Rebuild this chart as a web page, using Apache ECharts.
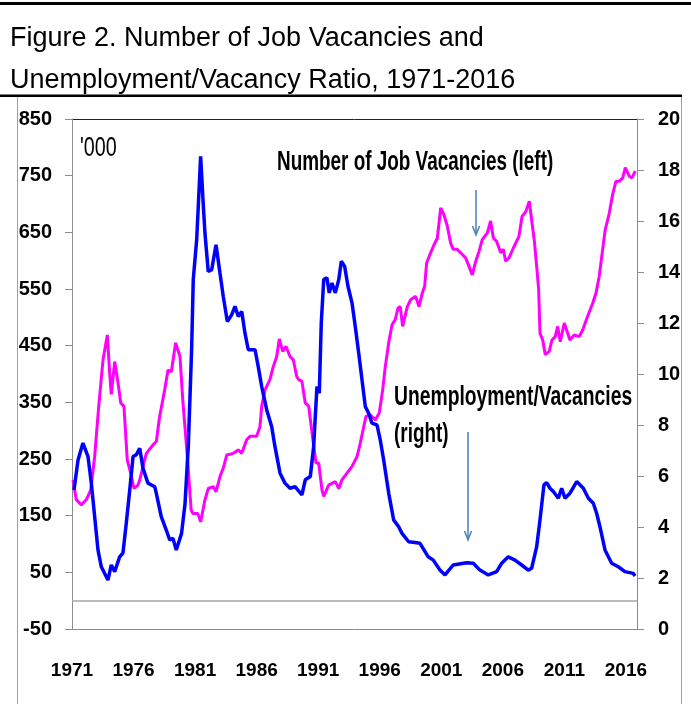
<!DOCTYPE html>
<html>
<head>
<meta charset="utf-8">
<script src="https://cdn.jsdelivr.net/npm/echarts@6/dist/echarts.min.js"></script>
<style>
  html, body { margin: 0; padding: 0; background: #fff; }
  #chart { width: 691px; height: 704px; }
</style>
</head>
<body>
<div id="chart"></div>
<script>
// job vacancies, '000 (left axis)
var vacYears = [1971.08,1971.35,1971.76,1972.16,1972.52,1972.84,1973.17,1973.52,1973.87,1974.06,1974.19,1974.47,1974.74,1974.96,
  1975.22,1975.49,1975.77,1976.04,1976.36,1976.5,1977.04,1977.58,1977.85,1978.12,1978.53,1978.8,1979.07,1979.42,1979.77,1980.0,
  1980.41,1980.68,1980.81,1981.22,1981.45,1981.8,1982.07,1982.48,1982.7,1983.02,1983.29,1983.57,1984.1,1984.51,1984.79,1985.19,
  1985.46,1986.0,1986.27,1986.41,1986.68,1987.08,1987.35,1987.63,1987.84,1988.12,1988.38,1988.71,1988.98,1989.25,1989.42,1989.68,
  1989.95,1990.23,1990.5,1990.82,1991.04,1991.31,1991.45,1991.85,1992.39,1992.67,1992.93,1993.34,1993.75,1994.15,1994.42,1994.7,
  1994.88,1995.23,1995.64,1995.96,1996.24,1996.45,1996.73,1997.0,1997.26,1997.48,1997.67,1997.86,1998.24,1998.51,1998.92,1999.19,
  1999.46,1999.65,1999.81,2000.08,2000.35,2000.68,2000.95,2001.22,2001.49,2001.76,2001.97,2002.3,2002.71,2002.98,2003.25,2003.52,
  2003.8,2004.06,2004.33,2004.74,2005.01,2005.23,2005.5,2005.83,2006.04,2006.23,2006.5,2006.91,2007.31,2007.56,2007.88,2008.15,
  2008.37,2008.55,2008.75,2008.91,2009.02,2009.24,2009.45,2009.77,2009.99,2010.26,2010.45,2010.67,2010.99,2011.27,2011.45,2011.8,
  2012.21,2012.49,2012.89,2013.3,2013.57,2013.83,2014.11,2014.32,2014.65,2014.92,2015.19,2015.46,2015.74,2015.95,2016.27,2016.49,2016.76];
var vacValues = [213,178,169,178,195,254,343,425,469,402,364,422,384,349,
  343,248,225,198,204,213,260,275,281,325,372,407,404,455,431,354,
  243,160,154,154,139,178,198,201,192,219,234,257,260,266,260,284,
  290,290,307,343,372,390,413,431,462,440,449,431,425,396,390,387,
  349,343,296,243,243,195,184,204,210,198,213,225,237,254,278,307,
  325,328,319,331,372,413,455,487,496,516,519,484,519,531,537,519,
  543,555,596,611,625,640,693,681,661,631,620,620,611,605,590,575,
  599,616,637,649,670,640,634,614,620,599,605,625,643,678,687,705,
  667,637,590,549,472,460,434,440,460,466,484,457,490,472,460,469,
  466,478,502,525,543,572,620,655,684,717,740,740,746,764,749,746,758];

// unemployment / vacancies ratio (right axis)
var uvYears = [1971.16,1971.49,1971.89,1972.3,1972.57,1972.84,1973.11,1973.38,1973.92,1974.19,1974.47,1974.87,1975.14,1975.41,
  1975.69,1975.96,1976.22,1976.5,1976.77,1977.17,1977.72,1977.85,1978.25,1978.66,1978.94,1979.2,1979.47,1979.9,1980.18,1980.45,
  1980.72,1980.85,1981.13,1981.26,1981.45,1981.67,1981.8,1982.07,1982.35,1982.7,1983.02,1983.29,1983.62,1983.97,1984.24,1984.51,
  1984.79,1985.05,1985.32,1985.87,1986.13,1986.41,1986.82,1987.22,1987.49,1987.9,1988.3,1988.71,1989.12,1989.28,1989.68,1989.95,
  1990.36,1990.63,1990.9,1991.09,1991.25,1991.45,1991.71,1991.9,1992.12,1992.39,1992.67,1992.88,1993.15,1993.42,1993.75,1994.01,
  1994.29,1994.56,1994.83,1995.1,1995.37,1995.78,1996.04,1996.32,1996.73,1997.13,1997.54,1997.81,1998.35,1998.86,1999.27,1999.94,
  2000.35,2000.89,2001.3,2001.97,2003.06,2003.6,2004.14,2004.82,2005.5,2005.91,2006.44,2006.99,2007.53,2008.07,2008.34,2008.75,
  2009.02,2009.34,2009.56,2009.83,2010.1,2010.51,2010.78,2011.05,2011.45,2012.0,2012.54,2012.95,2013.35,2013.62,2013.89,2014.3,
  2014.84,2015.38,2015.92,2016.6,2016.74];
var uvValues = [5.45,6.63,7.29,6.76,5.72,4.41,3.1,2.44,1.92,2.51,2.25,2.83,2.98,4.15,
  5.45,6.76,6.83,7.09,6.3,5.72,5.58,5.32,4.41,3.88,3.49,3.56,3.1,3.75,4.9,7.2,
  11.0,13.7,15.27,16.58,18.54,16.58,15.53,14.02,14.09,15.07,13.96,13.04,12.06,12.32,12.65,12.26,
  12.45,11.61,10.95,10.95,10.29,9.51,8.59,7.94,7.15,6.11,5.72,5.52,5.58,5.52,5.26,5.85,
  5.98,7.15,9.51,9.25,12.0,13.7,13.77,13.18,13.57,13.18,13.7,14.42,14.22,13.44,12.78,11.87,
  10.82,9.77,8.72,8.46,8.07,8.0,7.42,6.63,5.32,4.28,4.01,3.75,3.42,3.39,3.36,2.83,
  2.7,2.31,2.12,2.51,2.6,2.58,2.31,2.12,2.25,2.58,2.83,2.7,2.51,2.31,2.38,3.23,
  4.28,5.65,5.74,5.52,5.39,5.13,5.52,5.13,5.32,5.78,5.52,5.13,4.93,4.54,4.01,3.1,
  2.58,2.44,2.25,2.18,2.08];

var startYear = 1971;   // x axis counted from here, ticks every 5 years
var leftMin = -50;      // left axis runs -50..850, shifted so ticks start at 0

var sans = "'Liberation Sans', Arial, sans-serif";
var gray = '#8c8c8c';
var squeeze = 0.70;     // narrow, tall look of the original notes

function pairs(xs, ys, shift) {
    var out = [];
    for (var i = 0; i < xs.length; i++) {
        out.push([xs[i] - startYear, ys[i] + shift]);
    }
    return out;
}

function note(x, y, text, bold, sx) {
    return {
        type: 'text', x: x, y: y, scaleX: sx || squeeze,
        style: {text: text, fontFamily: sans, fontWeight: bold ? 'bold' : 'normal', fontSize: 27,
                fill: '#000', verticalAlign: 'middle'}
    };
}

var chart = echarts.init(document.getElementById('chart'), null, {renderer: 'canvas'});

chart.setOption({
    animation: false,
    backgroundColor: '#fff',
    grid: {left: 72, right: 54, top: 119, bottom: 75},
    xAxis: {
        type: 'value',
        min: 0,
        max: 45.9,
        interval: 5,
        axisLine: {lineStyle: {color: gray, width: 1}},
        axisTick: {show: false},
        splitLine: {show: false},
        axisLabel: {
            showMaxLabel: false,
            margin: 32,
            color: '#000',
            fontFamily: sans,
            fontWeight: 'bold',
            fontSize: 19,
            formatter: function (v) { return v % 5 === 0 ? String(startYear + v) : ''; }
        }
    },
    yAxis: [{
        type: 'value',
        position: 'left',
        min: 0,
        max: 900,
        interval: 100,
        axisLine: {show: true, lineStyle: {color: gray}},
        axisTick: {show: true, length: 7, lineStyle: {color: gray}},
        splitLine: {show: false},
        axisLabel: {
            margin: 20,
            color: '#000',
            fontFamily: sans,
            fontWeight: 'bold',
            fontSize: 20,
            formatter: function (v) { return String(v + leftMin); }
        }
    }, {
        type: 'value',
        position: 'right',
        min: 0,
        max: 20,
        interval: 2,
        axisLine: {show: true, lineStyle: {color: gray}},
        axisTick: {show: true, length: 7, lineStyle: {color: gray}},
        splitLine: {show: false},
        axisLabel: {
            margin: 21,
            color: '#000',
            fontFamily: sans,
            fontWeight: 'bold',
            fontSize: 20
        }
    }],
    series: [{
        name: 'Number of Job Vacancies',
        type: 'line',
        yAxisIndex: 0,
        data: pairs(vacYears, vacValues, -leftMin),
        showSymbol: false,
        symbol: 'none',
        lineStyle: {color: '#ff00ff', width: 3},
        markLine: {
            silent: true,
            symbol: 'none',
            label: {show: false},
            lineStyle: {color: '#a6a6a6', width: 1.5, type: 'solid'},
            data: [{yAxis: -leftMin}]   // zero on the left scale
        }
    }, {
        name: 'Unemployment/Vacancies',
        type: 'line',
        yAxisIndex: 1,
        data: pairs(uvYears, uvValues, 0),
        showSymbol: false,
        symbol: 'none',
        lineStyle: {color: '#0000ff', width: 3.5}
    }],
    graphic: [
        // frame and title
        {type: 'rect', shape: {x: 0, y: 2, width: 691, height: 3}, style: {fill: '#000'}},
        {type: 'text', x: 10, y: 39, style: {text: 'Figure 2. Number of Job Vacancies and', fontFamily: sans, fontSize: 27, fill: '#000', verticalAlign: 'middle'}},
        {type: 'text', x: 10, y: 81, style: {text: 'Unemployment/Vacancy Ratio, 1971-2016', fontFamily: sans, fontSize: 27, fill: '#000', verticalAlign: 'middle'}},
        {type: 'rect', shape: {x: 0, y: 94.5, width: 682, height: 2.5}, style: {fill: '#000'}},
        {type: 'line', shape: {x1: 17.5, y1: 97, x2: 17.5, y2: 704}, style: {stroke: '#a0a0a0', lineWidth: 1}},
        {type: 'line', shape: {x1: 681.5, y1: 97, x2: 681.5, y2: 704}, style: {stroke: '#a0a0a0', lineWidth: 1}},
        {type: 'line', shape: {x1: 72, y1: 119.5, x2: 637, y2: 119.5}, style: {stroke: '#222', lineWidth: 1}},
        // notes
        note(80, 149, "'000", false, 0.73),
        note(277, 163, 'Number of Job Vacancies (left)', true),
        note(394, 398, 'Unemployment/Vacancies', true, 0.715),
        note(394, 435, '(right)', true),
        // arrows
        {type: 'line', shape: {x1: 476, y1: 190, x2: 476, y2: 234}, style: {stroke: '#4a7ebb', lineWidth: 1.5}},
        {type: 'polyline', shape: {points: [[472.5, 226], [476, 235], [479.5, 226]]}, style: {stroke: '#4a7ebb', lineWidth: 1.5, fill: null}},
        {type: 'line', shape: {x1: 468, y1: 432, x2: 468, y2: 539}, style: {stroke: '#4a7ebb', lineWidth: 1.5}},
        {type: 'polyline', shape: {points: [[464.5, 531], [468, 540], [471.5, 531]]}, style: {stroke: '#4a7ebb', lineWidth: 1.5, fill: null}}
    ]
});
</script>
</body>
</html>
